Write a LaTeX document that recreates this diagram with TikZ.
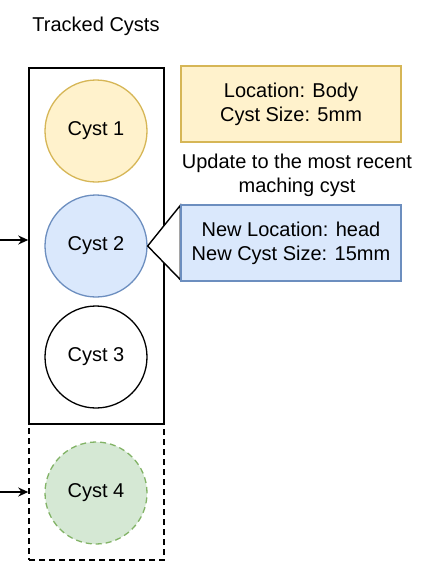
\documentclass[tikz,border=0pt]{standalone}
\usepackage{fontspec}
\setmainfont{Liberation Sans}
\usetikzlibrary{arrows.meta}
\definecolor{yfill}{HTML}{FFF2CC}
\definecolor{ydraw}{HTML}{D6B656}
\definecolor{bfill}{HTML}{DAE8FC}
\definecolor{bdraw}{HTML}{6C8EBF}
\definecolor{gfill}{HTML}{D5E8D4}
\definecolor{gdraw}{HTML}{82B366}
\begin{document}
\begin{tikzpicture}[x=1pt,y=-1pt,
  every node/.style={font=\fontsize{20}{24}\selectfont, align=center, inner sep=0pt},
  cyst/.style={circle, minimum size=102pt, line width=1.3pt},
  frame/.style={draw, line width=1.5pt, minimum width=135pt, inner sep=0pt},
  infobox/.style={draw, line width=1.3pt, minimum width=220pt, minimum height=76pt},
  dsh/.style={dash pattern=on 6pt off 4pt},
  arr/.style={-{Stealth[length=10pt,width=9pt]}, line width=1.5pt}]
\useasboundingbox (0,0) rectangle (432,579);
\node (title) at (96,26) {Tracked Cysts};
\node[frame, minimum height=356pt] (main) at (96.5,246) {};
\node[frame, dsh, minimum height=136pt] (extra) at (96.5,492) {};
\node[cyst, draw=ydraw, fill=yfill] (c1) at (96,131) {Cyst 1};
\node[cyst, draw=bdraw, fill=bfill] (c2) at (96,246) {Cyst 2};
\node[cyst, draw=black] (c3) at (96,357) {Cyst 3};
\node[cyst, draw=gdraw, fill=gfill, dsh] (c4) at (96,493) {Cyst 4};
\node[infobox, draw=ydraw, fill=yfill] (loc) at (291,104) {Location: Body\\Cyst Size: 5mm};
\node (upd) at (297,175) {Update to the most recent\\maching cyst};
\node[infobox, draw=bdraw, fill=bfill] (newloc) at (291,243) {};
\draw[line width=1.4pt, fill=white, line join=miter] ([yshift=-1pt]newloc.north west) -- (c2.east) -- ([yshift=2pt]newloc.south west) -- cycle;
\node[infobox, draw=bdraw, fill=bfill] (newloc2) at (newloc) {New Location: head\\New Cyst Size: 15mm};
\coordinate (s1) at (0,240);
\coordinate (s2) at (0,492);
\draw[arr] (s1) -- (s1 -| main.west);
\draw[arr] (s2) -- (s2 -| extra.west);
\end{tikzpicture}
\end{document}
